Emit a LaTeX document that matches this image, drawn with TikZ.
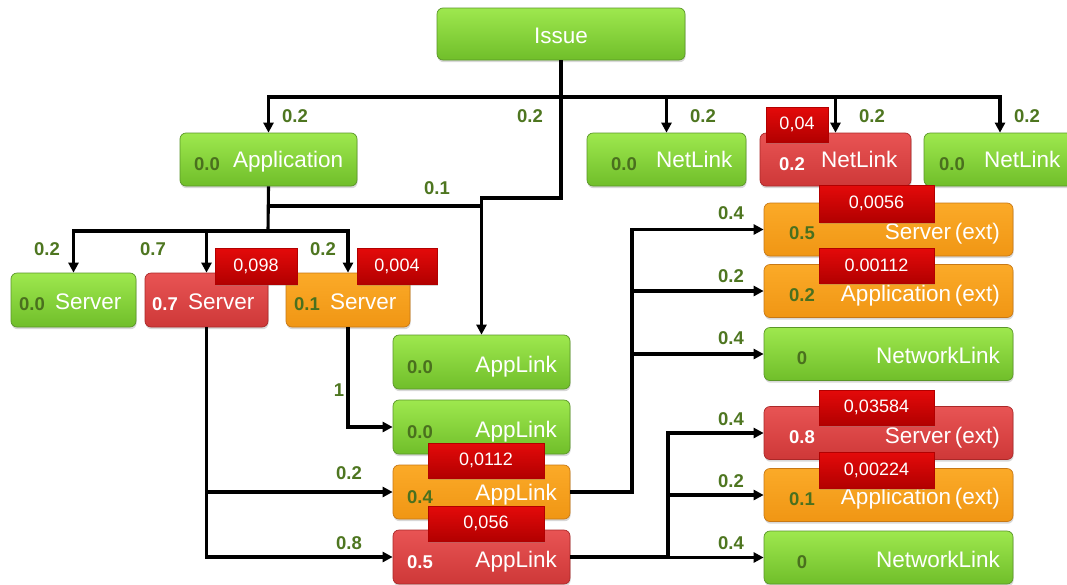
\documentclass[tikz,border=0pt]{standalone}
\usepackage{fontspec}
\setmainfont{Liberation Sans}
\usetikzlibrary{shadows,arrows.meta}

\definecolor{gtop}{RGB}{158,232,78}
\definecolor{gbot}{RGB}{112,190,42}
\definecolor{gline}{RGB}{90,150,40}
\definecolor{rtop}{RGB}{232,84,84}
\definecolor{rbot}{RGB}{206,56,56}
\definecolor{rline}{RGB}{170,40,40}
\definecolor{otop}{RGB}{251,170,40}
\definecolor{obot}{RGB}{240,150,20}
\definecolor{oline}{RGB}{200,120,20}
\definecolor{ttop}{RGB}{228,10,10}
\definecolor{tbot}{RGB}{178,0,0}
\definecolor{edgegreen}{RGB}{78,118,32}
\definecolor{valgreen}{RGB}{74,112,30}

\tikzset{
  bxbase/.style={rectangle, rounded corners=6pt, line width=0.7pt, inner sep=0pt,
    drop shadow={shadow xshift=0.6pt, shadow yshift=-2.2pt, opacity=0.3}},
  greenbox/.style={bxbase, top color=gtop, bottom color=gbot, draw=gline},
  redbox/.style={bxbase, top color=rtop, bottom color=rbot, draw=rline},
  orangebox/.style={bxbase, top color=otop, bottom color=obot, draw=oline},
  ptag/.style={rectangle, top color=ttop, bottom color=tbot, draw=tbot, line width=0.4pt,
    inner sep=0pt, text=white, font=\fontsize{18}{20}\selectfont,
    drop shadow={shadow xshift=0.6pt, shadow yshift=-1.5pt, opacity=0.3}},
  bxname/.style={inner sep=0pt, text=white, font=\fontsize{22.5}{26}\selectfont, anchor=base},
  bxnamer/.style={bxname, anchor=base east},
  bxnamel/.style={bxname, anchor=base west},
  bxval/.style={inner sep=0pt, text=valgreen, font=\bfseries\fontsize{18.5}{20}\selectfont, anchor=base},
  bxvalw/.style={bxval, text=white},
  wlbl/.style={inner sep=0pt, text=edgegreen, font=\bfseries\fontsize{18.5}{20}\selectfont},
  conn/.style={draw=black, line width=3.1pt},
  connarr/.style={conn, -{Triangle[length=10pt,width=10pt]}},
}

\begin{document}
\begin{tikzpicture}[x=1pt,y=-1pt]
\clip (0,0) rectangle (1067,584);
\fill[white] (0,0) rectangle (1067,584);

% ---- boxes ----
\node[greenbox, minimum width=248pt, minimum height=52pt] (issue) at (561,34) {};
\node[bxname] (issueT) at (561,43) {Issue};

\node[greenbox, minimum width=177pt, minimum height=53pt] (app) at (268.5,159.5) {};
\node[bxval] (appV) at (207,170) {0.0};
\node[bxnamel] (appT) at (233,167) {Application};

\node[greenbox, minimum width=159pt, minimum height=53pt] (nl1) at (666.5,159.5) {};
\node[bxval] (nl1V) at (624,170) {0.0};
\node[bxnamel] (nl1T) at (656,167) {NetLink};

\node[redbox, minimum width=151pt, minimum height=53pt] (nl2) at (835.5,159.5) {};
\node[bxvalw] (nl2V) at (792,170) {0.2};
\node[bxnamel] (nl2T) at (821,167) {NetLink};

\node[greenbox, minimum width=152pt, minimum height=53pt] (nl3) at (1000,159.5) {};
\node[bxval] (nl3V) at (952,170) {0.0};
\node[bxnamel] (nl3T) at (984,167) {NetLink};

\node[greenbox, minimum width=125pt, minimum height=54pt] (s1) at (73.5,300) {};
\node[bxval] (s1V) at (32,310) {0.0};
\node[bxnamel] (s1T) at (55,309) {Server};

\node[redbox, minimum width=123pt, minimum height=54pt] (s2) at (206.5,300) {};
\node[bxvalw] (s2V) at (165,310) {0.7};
\node[bxnamel] (s2T) at (188,309) {Server};

\node[orangebox, minimum width=124pt, minimum height=54pt] (s3) at (348,300) {};
\node[bxval] (s3V) at (307,310) {0.1};
\node[bxnamel] (s3T) at (330,309) {Server};

\node[greenbox, minimum width=177pt, minimum height=54pt] (al1) at (481.5,362) {};
\node[bxval] (al1V) at (420,373) {0.0};
\node[bxnamer] (al1T) at (557,372) {AppLink};

\node[greenbox, minimum width=177pt, minimum height=54pt] (al2) at (481.5,427) {};
\node[bxval] (al2V) at (420,438) {0.0};
\node[bxnamer] (al2T) at (557,437) {AppLink};

\node[orangebox, minimum width=177pt, minimum height=54pt] (al3) at (481.5,492) {};
\node[bxval] (al3V) at (420,503) {0.4};
\node[bxnamer] (al3T) at (557,500) {AppLink};

\node[redbox, minimum width=177pt, minimum height=54pt] (al4) at (481.5,557) {};
\node[bxvalw] (al4V) at (420,568) {0.5};
\node[bxnamer] (al4T) at (557,567) {AppLink};

\node[orangebox, minimum width=249pt, minimum height=53pt] (se1) at (888.5,229.5) {};
\node[bxval] (se1V) at (802,239) {0.5};
\node[bxnamer] (se1T) at (1000,239) {Server\,(ext)};

\node[orangebox, minimum width=249pt, minimum height=53pt] (ae1) at (888.5,291) {};
\node[bxval] (ae1V) at (802,301) {0.2};
\node[bxnamer] (ae1T) at (1000,301) {Application\,(ext)};

\node[greenbox, minimum width=249pt, minimum height=53pt] (nw1) at (888.5,354) {};
\node[bxval] (nw1V) at (802,364) {0};
\node[bxnamer] (nw1T) at (1000,363) {NetworkLink};

\node[redbox, minimum width=249pt, minimum height=53pt] (se2) at (888.5,433) {};
\node[bxvalw] (se2V) at (802,443) {0.8};
\node[bxnamer] (se2T) at (1000,443) {Server\,(ext)};

\node[orangebox, minimum width=249pt, minimum height=53pt] (ae2) at (888.5,495) {};
\node[bxval] (ae2V) at (802,505) {0.1};
\node[bxnamer] (ae2T) at (1000,504) {Application\,(ext)};

\node[greenbox, minimum width=249pt, minimum height=53pt] (nw2) at (888.5,557.5) {};
\node[bxval] (nw2V) at (802,568) {0};
\node[bxnamer] (nw2T) at (1000,567) {NetworkLink};

% ---- connectors ----
\coordinate (tb) at (561,97);
\draw[conn] (issue.south) -- (tb);
\draw[conn] (app.north |- tb) -- (nl3.north |- tb);
\draw[connarr] (tb) -| (app.north);
\draw[connarr] (tb) -| (nl1.north);
\draw[connarr] (tb) -| (nl2.north);
\draw[connarr] (tb) -| (nl3.north);
\draw[connarr] (tb) -- (561,198) -| (al1.north);

\coordinate (sb) at (268,231);
\draw[conn] (app.south) -- (sb);
\draw[conn] (268,206) -- (481,206);
\draw[conn] (s1.north |- sb) -- (s3.north |- sb);
\draw[connarr] (sb) -| (s1.north);
\draw[connarr] (sb) -| (s2.north);
\draw[connarr] (sb) -| (s3.north);

\draw[connarr] (s2.south) |- (al3.west);
\draw[connarr] (s2.south) |- (al4.west);
\draw[connarr] (s3.south) |- (al2.west);

\coordinate (ja) at (632,0);
\draw[connarr] (al3.east) -| (ja |- se1.west) -- (se1.west);
\draw[connarr] (ja |- ae1.west) -- (ae1.west);
\draw[connarr] (ja |- nw1.west) -- (nw1.west);

\coordinate (jb) at (668,0);
\draw[connarr] (al4.east) -| (jb |- se2.west) -- (se2.west);
\draw[connarr] (jb |- ae2.west) -- (ae2.west);
\draw[connarr] (jb |- nw2.west) -- (nw2.west);

% ---- edge weights ----
\node[wlbl] (w1) at (295,116) {0.2};
\node[wlbl] (w2) at (530,116) {0.2};
\node[wlbl] (w3) at (703,116) {0.2};
\node[wlbl] (w4) at (872,116) {0.2};
\node[wlbl] (w5) at (1027,116) {0.2};
\node[wlbl] (w6) at (437,188) {0.1};
\node[wlbl] (w7) at (47,249) {0.2};
\node[wlbl] (w8) at (153,249) {0.7};
\node[wlbl] (w9) at (323,249) {0.2};
\node[wlbl] (w10) at (339,390) {1};
\node[wlbl] (w11) at (349,473) {0.2};
\node[wlbl] (w12) at (349,543) {0.8};
\node[wlbl] (w13) at (731,213) {0.4};
\node[wlbl] (w14) at (731,276) {0.2};
\node[wlbl] (w15) at (731,338) {0.4};
\node[wlbl] (w16) at (731,419) {0.4};
\node[wlbl] (w17) at (731,481) {0.2};
\node[wlbl] (w18) at (731,543) {0.4};

% ---- probability tags ----
\node[ptag, minimum width=62pt, minimum height=35pt] (t1) at (797,124.5) {0,04};
\node[ptag, minimum width=82pt, minimum height=36pt] (t2) at (256,266) {0,098};
\node[ptag, minimum width=80pt, minimum height=36pt] (t3) at (397,266) {0,004};
\node[ptag, minimum width=116pt, minimum height=35pt] (t4) at (486,460.5) {0,0112};
\node[ptag, minimum width=116pt, minimum height=35pt] (t5) at (486,523.5) {0,056};
\node[ptag, minimum width=115pt, minimum height=37pt] (t6) at (876.5,203.5) {0,0056};
\node[ptag, minimum width=115pt, minimum height=35pt] (t7) at (876.5,265.5) {0.00112};
\node[ptag, minimum width=115pt, minimum height=35pt] (t8) at (876.5,407.5) {0,03584};
\node[ptag, minimum width=115pt, minimum height=36pt] (t9) at (876.5,470) {0,00224};
\end{tikzpicture}
\end{document}
